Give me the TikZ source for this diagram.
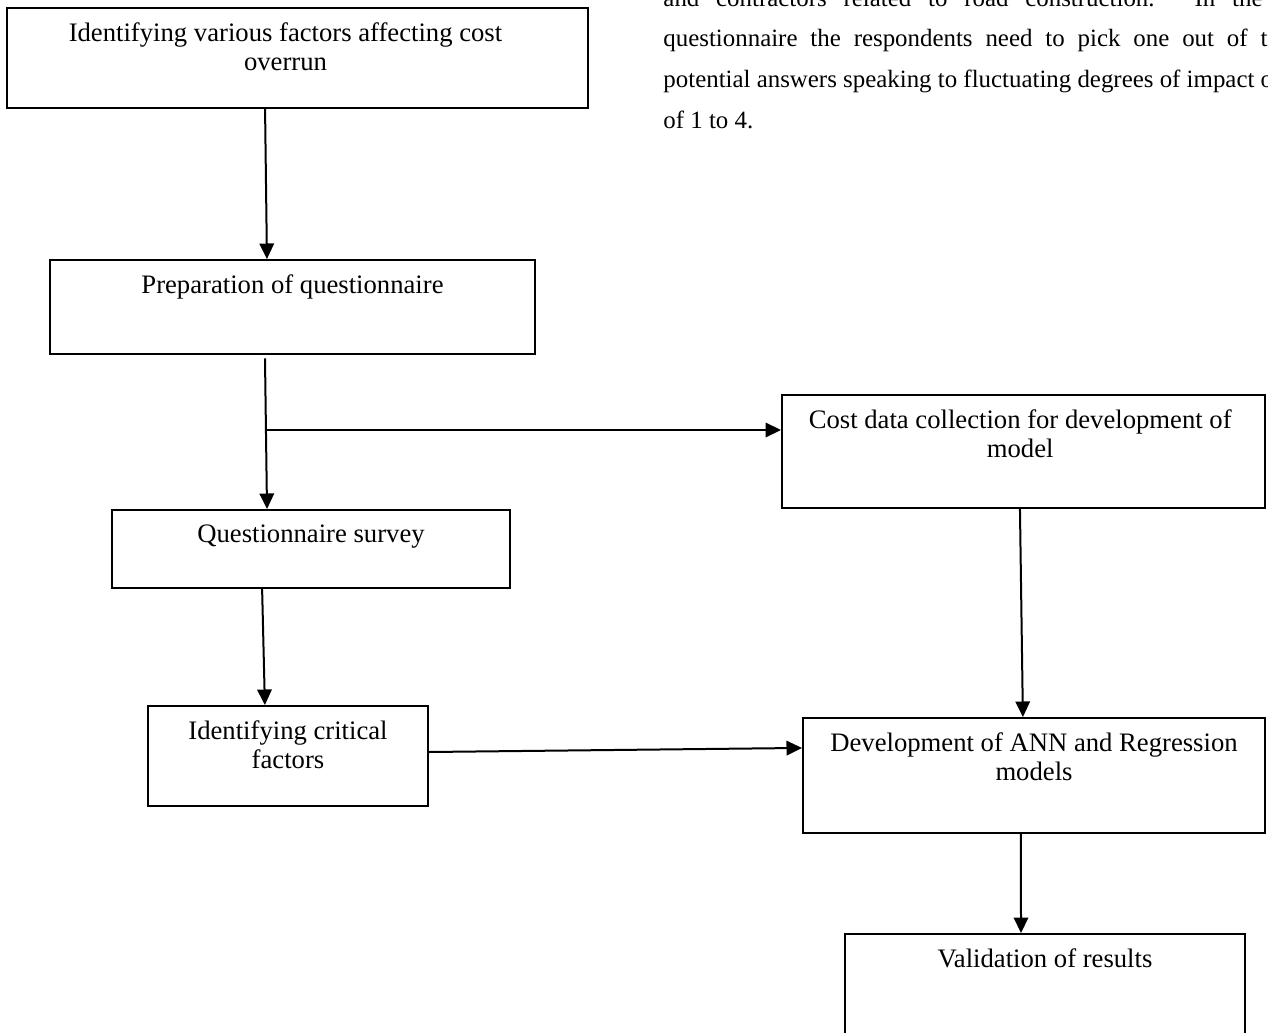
\documentclass[tikz,border=0pt]{standalone}
\usepackage{fontspec}
\setmainfont{Liberation Serif}
\usetikzlibrary{positioning,fit,arrows.meta,calc}

\tikzset{
  stepbox/.style={draw, line width=0.85pt, inner sep=0pt},
  steptext/.style={anchor=north, align=center, inner sep=0pt, yshift=-7pt,
    font=\fontsize{12}{13}\selectfont},
  flow/.style={line width=0.9pt, -{Triangle[length=7pt,width=6.5pt]}},
  paraline/.style={anchor=base west, inner sep=0pt, font=\fontsize{11.2}{14}\selectfont}
}

\begin{document}
\begin{tikzpicture}[x=0.45pt,y=-0.45pt]
  \clip (0,0) rectangle (1268,1032);
  % text of the page, cut by the picture
  \node[paraline] (par1) at (663,7) {\makebox[269.6pt][s]{and contractors related to road construction. In the}};
  \node[paraline] (par2) at (663,47) {\makebox[271.8pt][s]{questionnaire the respondents need to pick one out of t}};
  \node[paraline] (par3) at (663,88) {potential answers speaking to fluctuating degrees of impact on};
  \node[paraline] (par4) at (663,129) {of 1 to 4.};

  % boxes
  \node[stepbox, fit={(7,8) (588,108)}] (ident) {};
  \node[steptext, xshift=-5.4pt] (identT) at (ident.north) {Identifying various factors affecting cost\\overrun};
  \node[stepbox, fit={(50,260) (535,354)}] (prep) {};
  \node[steptext] (prepT) at (prep.north) {Preparation of questionnaire};
  \node[stepbox, fit={(112,510) (510,588)}] (survey) {};
  \node[steptext] (surveyT) at (survey.north) {Questionnaire survey};
  \node[stepbox, fit={(148,706) (428,806)}] (crit) {};
  \node[steptext] (critT) at (crit.north) {Identifying critical\\factors};
  \node[stepbox, fit={(782,395) (1265,508)}] (cost) {};
  \node[steptext, xshift=-1.5pt] (costT) at (cost.north) {Cost data collection for development of\\model};
  \node[stepbox, fit={(803,718) (1265,833)}] (devel) {};
  \node[steptext] (develT) at (devel.north) {Development of ANN and Regression\\models};
  \node[stepbox, fit={(845,934) (1245,1045)}] (valid) {};
  \node[steptext] (validT) at (valid.north) {Validation of results};

  % arrows
  \coordinate (split) at (266,430);
  \draw[flow] ([xshift=-14.6pt]ident.south) -- ([xshift=-11.5pt]prep.north);
  \draw[flow, shorten <=1.5pt] ([xshift=-12.4pt]prep.south) -- ([xshift=-19.8pt]survey.north);
  \draw[flow] (split) -- (split -| cost.west);
  \draw[flow] ([xshift=-22pt]survey.south) -- ([xshift=-10.4pt]crit.north);
  \draw[flow] ([yshift=1.8pt]crit.east) -- ([yshift=12.4pt]devel.west);
  \draw[flow] ([xshift=-1.6pt]cost.south) -- ([xshift=-5pt]devel.north);
  \draw[flow] ([xshift=-5.9pt]devel.south) -- ([xshift=-10.8pt]valid.north);
\end{tikzpicture}
\end{document}
